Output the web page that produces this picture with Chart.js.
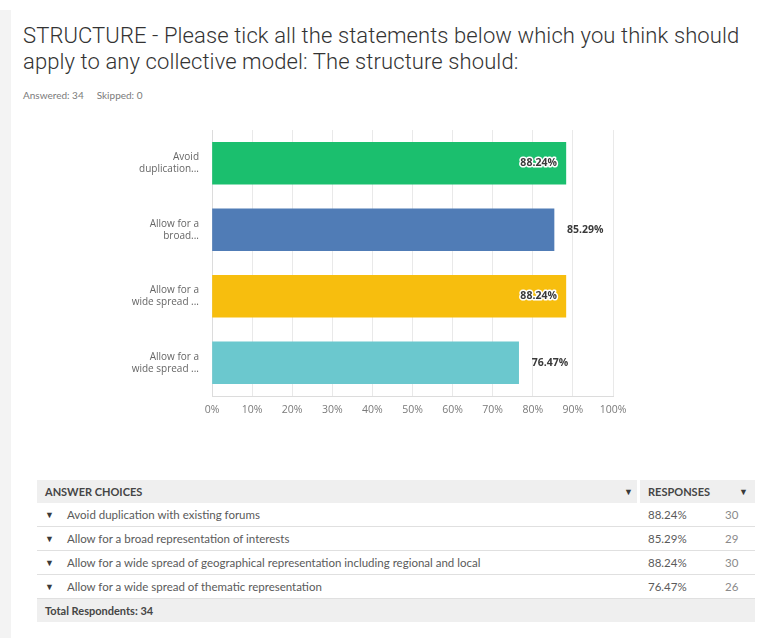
<!DOCTYPE html>
<html>
<head>
<meta charset="utf-8">
<script src="https://cdn.jsdelivr.net/npm/chart.js@4.4.1/dist/chart.umd.min.js"></script>
<style>
  body { margin: 0; width: 766px; height: 638px; background: #fff; position: relative; overflow: hidden; }
  .strip { position: absolute; left: 0; top: 10px; width: 11px; height: 628px; background: #f3f3f3; }
  h1 { position: absolute; left: 23px; top: 23px; margin: 0; width: 740px;
       font: 300 22px/26px "Roboto", sans-serif; letter-spacing: 0.1px; color: #333; }
  .meta { position: absolute; left: 23px; top: 89px; font: 10px "Lato", sans-serif; color: #7a7a7a; }
  .meta span + span { margin-left: 13px; }
  #wrap { position: absolute; left: 100px; top: 118px; width: 530px; height: 312px; }
  #tabela { position: absolute; left: 37px; top: 480px; width: 718px; font-family: "Lato", sans-serif; }
  .linha { position: relative; height: 24px; border-bottom: 1px solid #e0e0e0; box-sizing: border-box; font-size: 11.5px; color: #5a5a5a; }
  .linha div, .cab div, .total div { position: absolute; top: 0; line-height: 23px; white-space: nowrap; }
  .cab { position: relative; height: 23px; background: #efefef; font-size: 11px; font-weight: bold; color: #454545; }
  .cab .sep { left: 600px; width: 3px; height: 23px; background: #fff; }
  .total { position: relative; height: 23px; background: #efefef; font-size: 11px; font-weight: bold; color: #454545; }
  .seta { font-size: 9px; color: #3a3a3a; }
</style>
</head>
<body>
<div class="strip"></div>
<h1>STRUCTURE - Please tick all the statements below which you think should apply to any collective model: The structure should:</h1>
<div class="meta"><span>Answered: 34</span><span>Skipped: 0</span></div>
<div id="wrap"><canvas id="GraficoEstrutura"></canvas></div>
<div id="tabela"></div>
<script>
// rótulos curtos do eixo e textos completos da tabela
var rotulos = [["Avoid", "duplication..."], ["Allow for a", "broad..."], ["Allow for a", "wide spread ..."], ["Allow for a", "wide spread ..."]];
var escolhas = [
    "Avoid duplication with existing forums",
    "Allow for a broad representation of interests",
    "Allow for a wide spread of geographical representation including regional and local",
    "Allow for a wide spread of thematic representation"
];
var percentuais = [88.24, 85.29, 88.24, 76.47];
var respostas = [30, 29, 30, 26];
var totalRespondentes = 34;
var cores = ["#1bbf6e", "#507cb6", "#f7be0e", "#6bc8ce"];
var ticksX = [0, 10, 20, 30, 40, 50, 60, 70, 80, 90, 100];

// escreve o valor no fim de cada barra (dentro, com contorno branco, se não couber fora)
var rotuloValores = {
    id: 'rotuloValores',
    afterDatasetsDraw: function (chart) {
        var ctx = chart.ctx;
        var area = chart.chartArea;
        var meta = chart.getDatasetMeta(0);
        ctx.save();
        ctx.font = 'bold 10.5px "Open Sans"';
        ctx.textBaseline = 'middle';
        meta.data.forEach(function (barra, i) {
            var texto = percentuais[i].toFixed(2) + '%';
            var largura = ctx.measureText(texto).width;
            if (barra.x + 13 + largura <= area.right) {
                ctx.textAlign = 'left';
                ctx.fillStyle = '#3a3a3a';
                ctx.fillText(texto, barra.x + 13, barra.y);
            } else {
                ctx.textAlign = 'right';
                ctx.lineWidth = 3;
                ctx.lineJoin = 'round';
                ctx.strokeStyle = '#ffffff';
                ctx.strokeText(texto, barra.x - 9, barra.y);
                ctx.fillStyle = '#3a3a3a';
                ctx.fillText(texto, barra.x - 9, barra.y);
            }
        });
        ctx.restore();
    }
};

var ctx = document.getElementById("GraficoEstrutura").getContext('2d');
var grafico = new Chart(ctx, {
    type: 'bar',
    data: {
        labels: rotulos,
        datasets: [{
            data: percentuais,
            backgroundColor: cores,
            barThickness: 42
        }]
    },
    plugins: [rotuloValores],
    options: {
        indexAxis: 'y',
        responsive: true,
        maintainAspectRatio: false,
        animation: false,
        layout: { padding: { top: 12, right: 17, left: 0, bottom: 0 } },
        plugins: {
            legend: { display: false },
            tooltip: { enabled: false }
        },
        scales: {
            x: {
                min: 0,
                max: 100,
                afterBuildTicks: function (scale) {
                    scale.ticks = ticksX.map(function (v) { return { value: v }; });
                },
                afterFit: function (scale) {
                    scale.height = 34;
                    scale.paddingLeft = 0;
                    scale.paddingRight = 0;
                },
                grid: { color: '#e9e9e9', drawTicks: false },
                border: { color: '#dcdcdc' },
                ticks: {
                    padding: 8,
                    color: '#7a7a7a',
                    font: { family: 'Open Sans', size: 10.5 },
                    callback: function (v) { return v + '%'; }
                }
            },
            y: {
                afterFit: function (scale) {
                    scale.width = 112;
                    scale.paddingTop = 0;
                    scale.paddingBottom = 0;
                },
                grid: { display: false, drawTicks: false },
                border: { color: '#dcdcdc' },
                ticks: {
                    padding: 13,
                    color: '#666',
                    font: { family: 'Open Sans', size: 10, lineHeight: 1.2 }
                }
            }
        }
    }
});

// tabela de respostas
function MontarTabela() {
    var html = '<div class="cab"><div style="left:8px">ANSWER CHOICES</div>' +
        '<div class="seta" style="left:587px">&#9660;</div><div class="sep"></div>' +
        '<div style="left:611px">RESPONSES</div><div class="seta" style="left:702px">&#9660;</div></div>';
    var indice = 0;
    while (indice < escolhas.length) {
        html += '<div class="linha"><div class="seta" style="left:8px">&#9660;</div>' +
            '<div style="left:30px">' + escolhas[indice] + '</div>' +
            '<div style="left:611px">' + percentuais[indice].toFixed(2) + '%</div>' +
            '<div style="left:688px;color:#8a8a8a">' + respostas[indice] + '</div></div>';
        indice++;
    }
    html += '<div class="total"><div style="left:8px">Total Respondents: ' + totalRespondentes + '</div></div>';
    document.getElementById("tabela").innerHTML = html;
}
MontarTabela();
</script>
</body>
</html>
